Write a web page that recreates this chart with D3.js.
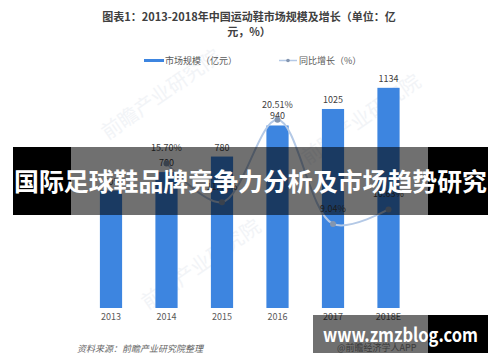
<!DOCTYPE html>
<html>
<head>
<meta charset="utf-8" />
<title>运动鞋市场规模</title>
<script src="https://d3js.org/d3.v7.min.js"></script>
<style>
  body { margin: 0; background: #fff; }
  text { font-family: "Noto Sans CJK SC", "Noto Sans", sans-serif; }
</style>
</head>
<body>
<svg id="viz"></svg>
<script>
// data
var years = ["2013", "2014", "2015", "2016", "2017", "2018E"];
var marketSize = [605, 700, 780, 940, 1025, 1134];
var growth = [null, 15.70, 11.43, 20.51, 9.04, 10.63];
var growthLabels = ["", "15.70%", "11.43%", "20.51%", "9.04%", "10.63%"];

var svg = d3.select("#viz").attr("width", 500).attr("height", 362);

var xScale = d3.scaleBand()
  .domain(years)
  .range([83.25, 416.25])
  .paddingInner(0.6)
  .paddingOuter(0.3);

var yScale = d3.scaleLinear().domain([0, 1200]).range([308, 75]);
var y2Scale = d3.scaleLinear().domain([0, 25]).range([306, 79]);

// faint watermarks
var marks = [[165, 100], [205, 270], [365, 125]];
svg.selectAll("text.wm").data(marks).enter().append("text")
  .attr("class", "wm")
  .attr("transform", function(d) { return "translate(" + d[0] + "," + d[1] + ") rotate(-35)"; })
  .attr("text-anchor", "middle")
  .attr("font-size", 20)
  .attr("fill", "#f2f4f7")
  .text("前瞻产业研究院");

// title
svg.append("text").attr("x", 249).attr("y", 21).attr("text-anchor", "middle")
  .attr("font-size", 11).attr("font-weight", "bold").attr("fill", "#404040")
  .text("图表1：2013-2018年中国运动鞋市场规模及增长（单位：亿");
svg.append("text").attr("x", 249).attr("y", 36).attr("text-anchor", "middle")
  .attr("font-size", 11).attr("font-weight", "bold").attr("fill", "#404040")
  .text("元，%）");

// legend
svg.append("rect").attr("x", 144).attr("y", 59).attr("width", 20).attr("height", 3).attr("fill", "#3d85e0");
svg.append("text").attr("x", 165).attr("y", 64).attr("font-size", 9).attr("fill", "#595959").text("市场规模（亿元）");
svg.append("line").attr("x1", 279).attr("x2", 297).attr("y1", 60.5).attr("y2", 60.5)
  .attr("stroke", "#b4c9e6").attr("stroke-width", 1.5);
svg.append("circle").attr("cx", 288).attr("cy", 60.5).attr("r", 1.8).attr("fill", "#8496b0");
svg.append("text").attr("x", 299).attr("y", 64).attr("font-size", 9).attr("fill", "#595959").text("同比增长（%）");

// bars
svg.selectAll("rect.bar").data(years).enter().append("rect")
  .attr("class", "bar")
  .attr("x", function(d) { return xScale(d); })
  .attr("y", function(d, i) { return yScale(marketSize[i]); })
  .attr("width", xScale.bandwidth())
  .attr("height", function(d, i) { return yScale(0) - yScale(marketSize[i]); })
  .attr("fill", "#3d85e0");

svg.selectAll("text.val").data(years).enter().append("text")
  .attr("class", "val")
  .attr("x", function(d) { return xScale(d) + xScale.bandwidth() / 2; })
  .attr("y", function(d, i) { return yScale(marketSize[i]) - 6; })
  .attr("text-anchor", "middle")
  .attr("font-size", 9).attr("fill", "#404040")
  .text(function(d, i) { return marketSize[i]; });

// growth line
var pts = years.map(function(d, i) {
  return { x: xScale(d) + xScale.bandwidth() / 2, v: growth[i], label: growthLabels[i] };
}).filter(function(p) { return p.v !== null; });

var line = d3.line()
  .x(function(p) { return p.x; })
  .y(function(p) { return y2Scale(p.v); })
  .curve(d3.curveCatmullRom.alpha(0.5));

svg.append("path").datum(pts).attr("d", line)
  .attr("fill", "none").attr("stroke", "#b4c9e6").attr("stroke-width", 2);

svg.selectAll("circle.pt").data(pts).enter().append("circle")
  .attr("class", "pt")
  .attr("cx", function(p) { return p.x; })
  .attr("cy", function(p) { return y2Scale(p.v); })
  .attr("r", 3).attr("fill", "#8496b0");

svg.selectAll("text.gr").data(pts).enter().append("text")
  .attr("class", "gr")
  .attr("x", function(p) { return p.x; })
  .attr("y", function(p) { return y2Scale(p.v) - 12; })
  .attr("text-anchor", "middle")
  .attr("font-size", 9).attr("fill", "#404040")
  .text(function(p) { return p.label; });

// category axis
var xAxis = d3.axisBottom(xScale).tickSize(0).tickPadding(6);
var gx = svg.append("g").attr("transform", "translate(0,308)").call(xAxis);
gx.select(".domain").remove();
gx.selectAll("text").attr("font-size", 9).attr("fill", "#595959")
  .attr("font-family", "'Noto Sans CJK SC', sans-serif");

// source
svg.append("text").attr("x", 77).attr("y", 352).attr("font-size", 9).attr("font-style", "italic")
  .attr("fill", "#666").text("资料来源：前瞻产业研究院整理");
svg.append("text").attr("x", 337).attr("y", 351).attr("font-size", 9)
  .attr("fill", "#888").text("@前瞻经济学人APP");

// banner overlay
svg.append("rect").attr("x", 13).attr("y", 147).attr("width", 58).attr("height", 68).attr("fill", "#000");
svg.append("rect").attr("x", 71).attr("y", 147).attr("width", 357).attr("height", 68).attr("fill", "rgba(0,0,0,0.56)");
svg.append("rect").attr("x", 428).attr("y", 147).attr("width", 60).attr("height", 68).attr("fill", "#000");
svg.append("text").attr("x", 14).attr("y", 191).attr("font-size", 25).attr("font-weight", "bold")
  .attr("fill", "#fff").attr("textLength", 473).attr("lengthAdjust", "spacingAndGlyphs")
  .text("国际足球鞋品牌竞争力分析及市场趋势研究");

// bottom site tag
svg.append("rect").attr("x", 313).attr("y", 315).attr("width", 115).attr("height", 38).attr("fill", "rgba(0,0,0,0.56)");
svg.append("rect").attr("x", 428).attr("y", 315).attr("width", 60).attr("height", 38).attr("fill", "#000");
svg.append("text").attr("x", 323).attr("y", 342).attr("font-size", 19).attr("font-weight", "bold")
  .attr("font-family", "'Open Sans', sans-serif")
  .attr("fill", "#fff").attr("textLength", 155).attr("lengthAdjust", "spacingAndGlyphs")
  .text("www.zmzblog.com");
</script>
</body>
</html>
